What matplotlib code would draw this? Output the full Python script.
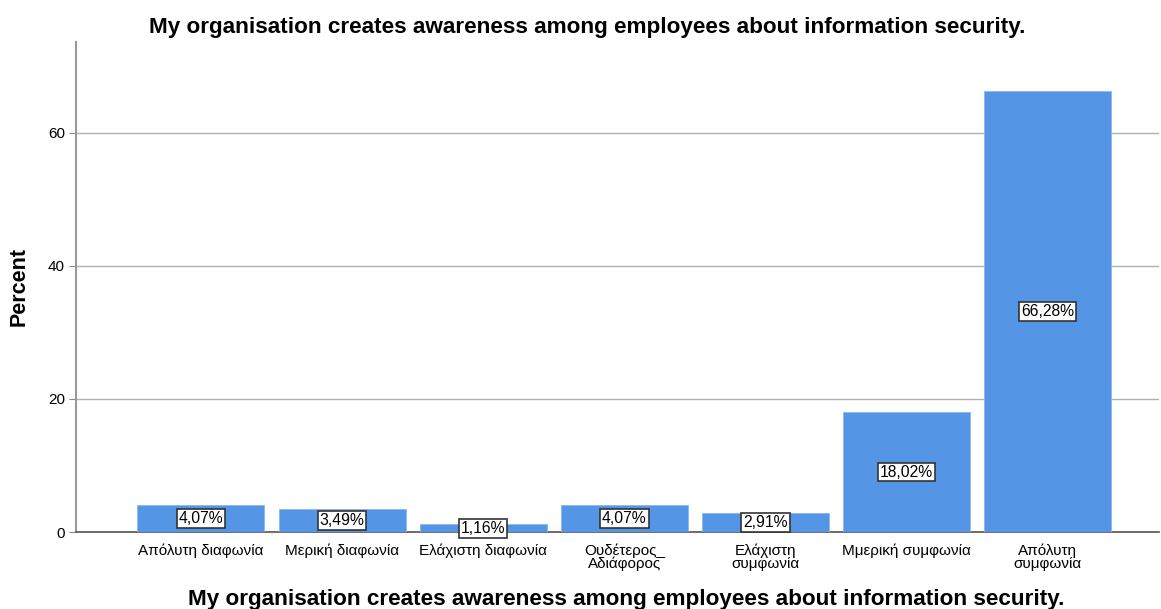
import matplotlib.pyplot as plt

plt.rcParams['font.family'] = ['Liberation Sans', 'DejaVu Sans']

categories = [
    'Απόλυτη διαφωνία',
    'Μερική διαφωνία',
    'Ελάχιστη διαφωνία',
    'Ουδέτερος_\nΑδιάφορος',
    'Ελάχιστη\nσυμφωνία',
    'Μμερική συμφωνία',
    'Απόλυτη\nσυμφωνία',
]
percents = [4.07, 3.49, 1.16, 4.07, 2.91, 18.02, 66.28]
yticks = [0, 20, 40, 60]

title = 'My organisation creates awareness among employees about information security.'

fig = plt.figure(figsize=(11.61, 6.09), dpi=100)
ax = fig.add_axes([0.0655, 0.1264, 0.933, 0.805])

x = list(range(len(categories)))
ax.bar(x, percents, width=0.9, color='#5595e5', edgecolor='#8cb8ee',
       linewidth=0.6, zorder=3)

for xi, p in zip(x, percents):
    ax.text(xi, p / 2, f'{p:.2f}%'.replace('.', ','), ha='center', va='center',
            fontsize=11.3, zorder=4,
            bbox=dict(boxstyle='square,pad=0.12', fc='white', ec='#333333', lw=1.2))

ax.set_xlim(-0.885, 6.79)
ax.set_ylim(0, 73.7)
ax.set_yticks(yticks)
ax.set_xticks(x)
ax.set_xticklabels(categories, fontsize=11, linespacing=0.9)
ax.tick_params(axis='x', length=0, pad=8)
ax.tick_params(axis='y', length=5, color='#888888', labelsize=11, pad=3)
ax.yaxis.grid(True, color='#b0b0b0', lw=1, zorder=0)

for side in ['top', 'right']:
    ax.spines[side].set_visible(False)
ax.spines['left'].set_color('#999999')
ax.spines['left'].set_linewidth(1.5)
ax.spines['bottom'].set_color('#555555')
ax.spines['bottom'].set_linewidth(1.2)

# axis titles placed in figure coordinates
fig.text(0.0165, 0.529, 'Percent', ha='center', va='center', rotation=90,
         fontsize=15.5, fontweight='bold')
fig.text(0.539, 0.015, title, ha='center', va='center', fontsize=16.2,
         fontweight='bold')
fig.text(0.506, 0.955, title, ha='center', va='center', fontsize=16.2,
         fontweight='bold')

plt.savefig('out.png', dpi=100)
